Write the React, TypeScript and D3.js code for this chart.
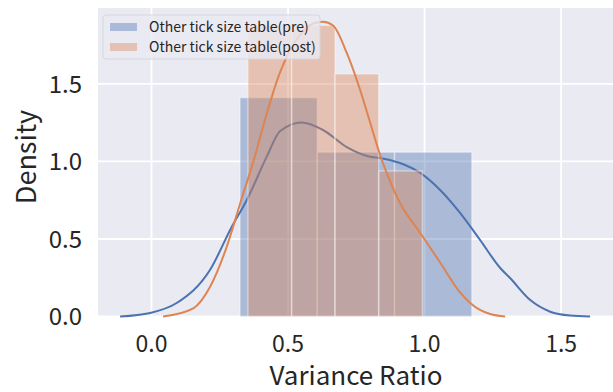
import * as d3 from "d3";
import { useEffect, useRef } from "react";

// histogram bins (density)
const preBinEdges = [0.324, 0.607, 0.89, 1.173];
const preDensity = [1.412, 1.06, 1.06];
const postBinEdges = [0.353, 0.513, 0.672, 0.832, 0.992];
const postDensity = [1.878, 1.878, 1.565, 0.939];

// kde curves
const preKdeX = [-0.115, -0.005, 0.092, 0.214, 0.294, 0.349, 0.422, 0.471, 0.55, 0.628, 0.715, 0.8, 0.837, 0.91, 0.984, 1.057, 1.13, 1.203, 1.277, 1.313, 1.387, 1.46, 1.533, 1.606];
const preKdeY = [0.0, 0.023, 0.087, 0.3, 0.579, 0.752, 1.031, 1.197, 1.252, 1.203, 1.093, 1.031, 1.023, 0.99, 0.926, 0.816, 0.668, 0.494, 0.313, 0.248, 0.106, 0.031, 0.006, 0.0];
const postKdeX = [0.042, 0.153, 0.214, 0.275, 0.324, 0.385, 0.397, 0.471, 0.544, 0.592, 0.628, 0.665, 0.715, 0.764, 0.8, 0.837, 0.884, 0.91, 0.984, 1.057, 1.13, 1.167, 1.203, 1.24, 1.295];
const postKdeY = [0.0, 0.053, 0.19, 0.448, 0.726, 1.074, 1.152, 1.577, 1.816, 1.89, 1.902, 1.877, 1.7, 1.461, 1.255, 1.042, 0.829, 0.732, 0.539, 0.348, 0.155, 0.087, 0.042, 0.016, 0.0];

const xTicks = [0, 0.5, 1.0, 1.5];
const yTicks = [0, 0.5, 1.0, 1.5];
const seriesLabels = ["Other tick size table(pre)", "Other tick size table(post)"];
const colors = ["#4c72b0", "#dd8452"];

const FONT = "'Noto Sans CJK JP', 'Noto Sans', sans-serif";

function DistPlot() {
    const ref = useRef<SVGSVGElement>(null);

    useEffect(() => {
        const svg = d3.select(ref.current);
        svg.selectAll("*").remove();

        const width = 613;
        const height = 392;
        const plot = { left: 98, right: 613, top: 8, bottom: 316.5 };

        svg.attr("width", width).attr("height", height);

        const x = d3.scaleLinear().domain([-0.196, 1.69]).range([plot.left, plot.right]);
        const y = d3.scaleLinear().domain([0, 1.99]).range([plot.bottom, plot.top]);

        // background + grid
        svg.append("rect")
            .attr("x", plot.left)
            .attr("y", plot.top)
            .attr("width", plot.right - plot.left)
            .attr("height", plot.bottom - plot.top)
            .attr("fill", "#eaeaf2");

        const grid = svg.append("g").attr("stroke", "#ffffff").attr("stroke-width", 1.8);
        xTicks.forEach(t => {
            grid.append("line").attr("x1", x(t)).attr("x2", x(t)).attr("y1", plot.top).attr("y2", plot.bottom);
        });
        yTicks.forEach(t => {
            grid.append("line").attr("x1", plot.left).attr("x2", plot.right).attr("y1", y(t)).attr("y2", y(t));
        });

        const drawHist = (edges: number[], dens: number[], color: string) => {
            const g = svg.append("g");
            dens.forEach((d, i) => {
                g.append("rect")
                    .attr("x", x(edges[i]))
                    .attr("y", y(d))
                    .attr("width", x(edges[i + 1]) - x(edges[i]))
                    .attr("height", y(0) - y(d))
                    .attr("fill", color)
                    .attr("fill-opacity", 0.4)
                    .attr("stroke", "#ffffff")
                    .attr("stroke-opacity", 0.4)
                    .attr("stroke-width", 1.5);
            });
        };

        const drawKde = (xs: number[], ys: number[], color: string) => {
            const pts = xs.map((v, i) => [x(v), y(ys[i])] as [number, number]);
            svg.append("path")
                .attr("d", d3.line().curve(d3.curveMonotoneX)(pts))
                .attr("fill", "none")
                .attr("stroke", color)
                .attr("stroke-width", 2);
        };

        // seaborn distplot order: hist then kde, per series
        drawHist(preBinEdges, preDensity, colors[0]);
        drawKde(preKdeX, preKdeY, colors[0]);
        drawHist(postBinEdges, postDensity, colors[1]);
        drawKde(postKdeX, postKdeY, colors[1]);

        // tick labels
        yTicks.forEach(t => {
            svg.append("text")
                .attr("x", 82)
                .attr("y", y(t))
                .attr("dy", "0.36em")
                .attr("text-anchor", "end")
                .style("font-family", FONT)
                .style("font-size", "24px")
                .attr("fill", "#262626")
                .text(d3.format(".1f")(t));
        });
        xTicks.forEach(t => {
            svg.append("text")
                .attr("x", x(t))
                .attr("y", 352)
                .attr("text-anchor", "middle")
                .style("font-family", FONT)
                .style("font-size", "23px")
                .attr("fill", "#262626")
                .text(d3.format(".1f")(t));
        });

        // axis labels
        svg.append("text")
            .attr("x", 356)
            .attr("y", 385)
            .attr("text-anchor", "middle")
            .style("font-family", FONT)
            .style("font-size", "26px")
            .attr("fill", "#262626")
            .text("Variance Ratio");

        svg.append("text")
            .attr("transform", "rotate(-90)")
            .attr("x", -157)
            .attr("y", 36)
            .attr("text-anchor", "middle")
            .style("font-family", FONT)
            .style("font-size", "27px")
            .attr("fill", "#262626")
            .text("Density");

        // legend
        const legend = svg.append("g").attr("transform", "translate(103, 15)");
        legend.append("rect")
            .attr("width", 217)
            .attr("height", 44)
            .attr("rx", 3)
            .attr("fill", "#eaeaf2")
            .attr("fill-opacity", 0.8)
            .attr("stroke", "#d6d6dc")
            .attr("stroke-width", 1);

        seriesLabels.forEach((label, i) => {
            const row = legend.append("g").attr("transform", `translate(0, ${i * 20})`);
            row.append("rect")
                .attr("x", 7)
                .attr("y", 8)
                .attr("width", 27)
                .attr("height", 8)
                .attr("fill", colors[i])
                .attr("fill-opacity", 0.4);
            row.append("text")
                .attr("x", 46)
                .attr("y", 17)
                .style("font-family", FONT)
                .style("font-size", "14px")
                .attr("fill", "#262626")
                .text(label);
        });
    }, []);

    return <svg ref={ref} style={{ position: "absolute", left: 0, top: 0, background: "#ffffff" }} />;
}

export default function App() {
    return <DistPlot />;
}
